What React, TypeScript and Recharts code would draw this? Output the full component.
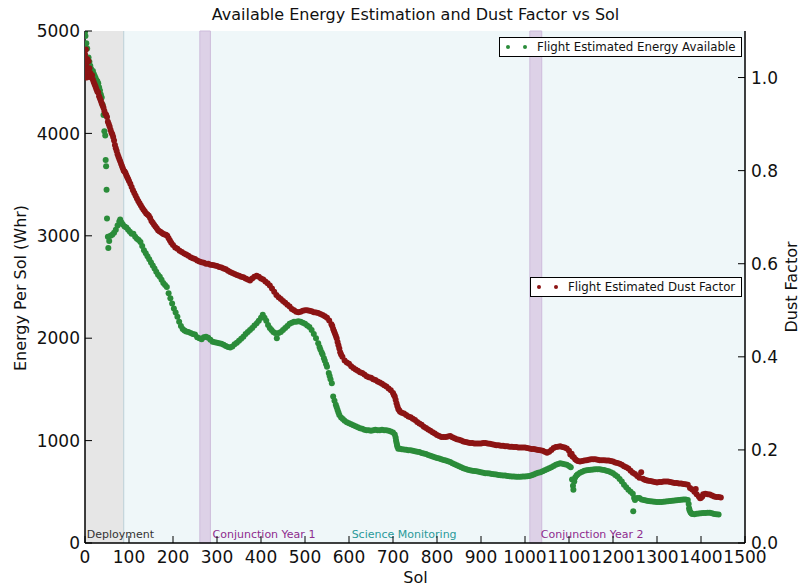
import React from 'react';
import { ScatterChart, Scatter, XAxis, YAxis, ReferenceArea, ReferenceLine } from 'recharts';

const FONT = '"DejaVu Sans", Verdana, sans-serif';
const GREEN = '#2b8c3a';
const RED = '#8c1414';

const SOL_TICKS = [0, 100, 200, 300, 400, 500, 600, 700, 800, 900, 1000, 1100, 1200, 1300, 1400, 1500];
const ENERGY_TICKS = [0, 1000, 2000, 3000, 4000, 5000];
const DUST_TICKS = [0, 0.2, 0.4, 0.6, 0.8, 1.0];

// mission phases (sol ranges)
const DEPLOYMENT: [number, number] = [0, 88];
const CONJUNCTIONS: [number, number][] = [[261, 285], [1011, 1038]];
const PHASE_LABELS: { sol: number; text: string; color: string }[] = [
  { sol: 4, text: 'Deployment', color: '#333333' },
  { sol: 290, text: 'Conjunction Year 1', color: '#8e2c8e' },
  { sol: 606, text: 'Science Monitoring', color: '#2a9a9a' },
  { sol: 1036, text: 'Conjunction Year 2', color: '#8e2c8e' },
];

// [sol, Whr]
const ENERGY: [number, number][] = [
  [0, 4990], [1, 4950], [2, 4570], [3, 4880], [5, 4830], [6, 4720], [8, 4740], [10, 4700], [12, 4660], [14, 4630],
  [16, 4600], [18, 4610], [20, 4580], [22, 4560], [24, 4540], [26, 4520], [28, 4510], [30, 4490], [32, 4450], [34, 4420],
  [36, 4380], [38, 4350], [40, 4280], [42, 4180], [44, 4020], [46, 3980], [47, 3740], [48, 3680], [49, 3450], [50, 3170],
  [52, 2990], [53, 2880], [55, 2950], [58, 3000], [62, 3010], [66, 3030], [70, 3060], [74, 3100], [78, 3140], [80, 3160],
  [83, 3130], [86, 3110], [90, 3090], [94, 3080], [98, 3060], [102, 3040], [106, 3020], [110, 3020], [114, 2990], [118, 2970],
  [122, 2960], [126, 2940], [130, 2900], [134, 2860], [138, 2830], [142, 2800], [146, 2770], [150, 2740], [154, 2710], [158, 2680],
  [162, 2650], [166, 2620], [170, 2600], [174, 2570], [178, 2540], [182, 2520], [186, 2500], [190, 2440], [194, 2390], [198, 2340],
  [202, 2290], [206, 2250], [210, 2210], [214, 2160], [218, 2120], [222, 2090], [226, 2075], [230, 2065], [235, 2060], [240, 2050],
  [245, 2040], [250, 2035], [255, 2010], [260, 2000], [265, 1990], [270, 2010], [275, 2015], [280, 2005], [285, 1985], [290, 1965],
  [295, 1960], [300, 1955], [305, 1950], [310, 1945], [315, 1935], [320, 1925], [325, 1915], [330, 1910], [335, 1920], [340, 1940],
  [345, 1955], [350, 1975], [355, 1995], [360, 2015], [365, 2040], [370, 2060], [375, 2080], [380, 2100], [385, 2125], [390, 2145],
  [395, 2170], [400, 2200], [404, 2230], [408, 2200], [412, 2170], [416, 2130], [420, 2100], [424, 2080], [428, 2060], [432, 2050],
  [436, 2000], [440, 2050], [445, 2060], [450, 2080], [455, 2100], [460, 2120], [465, 2140], [470, 2150], [475, 2160], [480, 2160],
  [485, 2165], [490, 2160], [495, 2150], [500, 2140], [505, 2125], [510, 2110], [515, 2080], [520, 2040], [525, 2000], [530, 1950],
  [533, 1915], [535, 1890], [538, 1860], [540, 1840], [543, 1805], [545, 1780], [548, 1745], [550, 1720], [554, 1660], [556, 1630],
  [558, 1600], [561, 1560], [564, 1430], [567, 1390], [570, 1350], [572, 1325], [574, 1300], [576, 1275], [578, 1250], [582, 1225],
  [586, 1210], [590, 1195], [595, 1180], [600, 1170], [605, 1160], [610, 1150], [615, 1140],
  [620, 1130], [625, 1120], [630, 1115], [635, 1105], [640, 1100], [645, 1100], [650, 1095], [655, 1100], [660, 1105], [665, 1100],
  [670, 1100], [675, 1105], [680, 1100], [685, 1100], [690, 1095], [695, 1090], [700, 1080], [704, 1060], [706, 1030], [707, 1000],
  [708, 980], [709, 960], [710, 940], [712, 920], [716, 920], [720, 915], [725, 912], [730, 910], [735, 905], [740, 905], [745, 900],
  [750, 895], [755, 892],
  [760, 888], [765, 880], [770, 875], [775, 868], [780, 860], [785, 852], [790, 845], [795, 838], [800, 830], [805, 825],
  [810, 818], [815, 810], [820, 805], [825, 798], [830, 790], [835, 780], [840, 770], [845, 760], [850, 750], [855, 740],
  [860, 730], [865, 722], [870, 715], [875, 710], [880, 705], [885, 702], [890, 700], [895, 695], [900, 690], [905, 685],
  [910, 680], [915, 680], [920, 678], [925, 675], [930, 672], [935, 668], [940, 665], [945, 662], [950, 660], [955, 658],
  [960, 655], [965, 652], [970, 650], [975, 650], [980, 648], [985, 648], [990, 648], [995, 650], [1000, 650], [1005, 652],
  [1010, 655], [1015, 662], [1020, 670], [1025, 678], [1030, 685], [1035, 692], [1040, 700], [1045, 710], [1050, 720], [1055, 730],
  [1060, 740], [1065, 752], [1070, 765], [1075, 772], [1080, 778], [1085, 775], [1090, 770], [1095, 765], [1100, 752], [1104, 740],
  [1107, 620], [1109, 560], [1110, 520], [1112, 600], [1114, 640], [1117, 660], [1120, 672], [1125, 685], [1130, 695], [1135, 705],
  [1140, 710], [1145, 712], [1150, 715], [1155, 718], [1160, 720], [1165, 720], [1170, 720], [1175, 715], [1180, 712], [1185, 705],
  [1190, 700], [1195, 690], [1200, 680], [1205, 665], [1210, 650], [1215, 625], [1220, 600], [1225, 570], [1230, 545], [1235, 520],
  [1240, 500], [1245, 480], [1246, 310], [1248, 440], [1250, 420], [1255, 440], [1260, 440], [1265, 425], [1270, 420], [1275, 415],
  [1280, 410], [1285, 408], [1290, 405], [1295, 402], [1300, 400], [1305, 400], [1310, 400], [1315, 402], [1320, 405], [1325, 408],
  [1330, 410], [1335, 412], [1340, 415], [1345, 418], [1350, 420], [1355, 422], [1360, 425], [1365, 424], [1370, 420], [1372, 380],
  [1373, 340], [1374, 320], [1376, 300], [1378, 290], [1380, 282], [1385, 280], [1390, 285], [1395, 288], [1400, 290], [1405, 292],
  [1410, 292], [1415, 295], [1420, 295], [1425, 290], [1430, 282], [1435, 280], [1440, 278],
];

// [sol, dust factor]
const DUST: [number, number][] = [
  [0, 1.05], [1, 1.01], [2, 1.06], [3, 1.03], [4, 1.0], [5, 1.04], [6, 1.02], [8, 1.035], [10, 1.02], [12, 1.01],
  [14, 1.0], [16, 1.005], [18, 0.995], [20, 0.99], [22, 0.985], [24, 0.98], [26, 0.975], [28, 0.97], [30, 0.968], [32, 0.96],
  [34, 0.955], [36, 0.95], [38, 0.945], [40, 0.94], [42, 0.935], [44, 0.928], [46, 0.922], [48, 0.92], [50, 0.915], [52, 0.905],
  [54, 0.9], [56, 0.895], [58, 0.888], [60, 0.882], [62, 0.878], [64, 0.872], [66, 0.865], [68, 0.855], [70, 0.848], [72, 0.842],
  [74, 0.835], [76, 0.83], [78, 0.825], [80, 0.82], [82, 0.815], [84, 0.81], [86, 0.805], [88, 0.8], [90, 0.798], [92, 0.795],
  [94, 0.79], [96, 0.786], [98, 0.782], [100, 0.778], [103, 0.772], [106, 0.765], [109, 0.758], [112, 0.752], [115, 0.746], [118, 0.74],
  [121, 0.735], [124, 0.73], [127, 0.725], [130, 0.72], [133, 0.716], [136, 0.712], [139, 0.708], [142, 0.706], [145, 0.703], [148, 0.698],
  [151, 0.692], [154, 0.688], [157, 0.684], [160, 0.68], [163, 0.676], [166, 0.672], [169, 0.67], [172, 0.668], [175, 0.666], [178, 0.664],
  [181, 0.663], [184, 0.662], [187, 0.66], [190, 0.655], [193, 0.65], [196, 0.645], [200, 0.64], [205, 0.635], [210, 0.632], [215, 0.628],
  [220, 0.625], [225, 0.622], [230, 0.62], [235, 0.617], [240, 0.614], [245, 0.612], [250, 0.61], [255, 0.607], [260, 0.605], [265, 0.603],
  [270, 0.602], [275, 0.6], [280, 0.6], [285, 0.598], [290, 0.597], [295, 0.596], [300, 0.595], [305, 0.593], [310, 0.592], [315, 0.59],
  [320, 0.588], [325, 0.585], [330, 0.582], [335, 0.58], [340, 0.578], [345, 0.576], [350, 0.574], [355, 0.572], [360, 0.571], [365, 0.568],
  [370, 0.566], [375, 0.564], [380, 0.568], [385, 0.572], [390, 0.574], [395, 0.572], [400, 0.568], [405, 0.566], [410, 0.562], [415, 0.558],
  [420, 0.553], [425, 0.547], [430, 0.54], [435, 0.533], [440, 0.528], [445, 0.524], [450, 0.52], [455, 0.516], [460, 0.512], [465, 0.508],
  [470, 0.503], [475, 0.5], [480, 0.497], [485, 0.496], [490, 0.497], [495, 0.499], [500, 0.5], [505, 0.5], [510, 0.499], [515, 0.498],
  [520, 0.496], [525, 0.495], [530, 0.494], [535, 0.492], [540, 0.49], [545, 0.487], [550, 0.484], [555, 0.478], [560, 0.47], [562, 0.466],
  [564, 0.46], [566, 0.455], [568, 0.45], [570, 0.445], [572, 0.44], [574, 0.432], [576, 0.425], [578, 0.418], [580, 0.41], [582, 0.405],
  [585, 0.4], [590, 0.392], [595, 0.388], [600, 0.385], [605, 0.38], [610, 0.376],
  [615, 0.373], [620, 0.37], [625, 0.367], [630, 0.365], [635, 0.362], [640, 0.358], [645, 0.356], [650, 0.355], [655, 0.352], [660, 0.35],
  [665, 0.347], [670, 0.345], [675, 0.342], [680, 0.339], [685, 0.336], [690, 0.332], [695, 0.328], [700, 0.322], [702, 0.318], [704, 0.315],
  [706, 0.308], [708, 0.3], [710, 0.294], [712, 0.288], [714, 0.285], [716, 0.282], [720, 0.28], [725, 0.278], [730, 0.275], [735, 0.272],
  [740, 0.27], [745, 0.267], [750, 0.264], [755, 0.26],
  [760, 0.257], [765, 0.254], [770, 0.25], [775, 0.247], [780, 0.244], [785, 0.241], [790, 0.238], [795, 0.235], [800, 0.232], [805, 0.23],
  [810, 0.228], [815, 0.228], [820, 0.228], [825, 0.229], [830, 0.23], [835, 0.227], [840, 0.225], [845, 0.223], [850, 0.222], [855, 0.22],
  [860, 0.218], [865, 0.217], [870, 0.216], [875, 0.215], [880, 0.215], [885, 0.214], [890, 0.214], [895, 0.214], [900, 0.214], [905, 0.215],
  [910, 0.215], [915, 0.214], [920, 0.213], [925, 0.212], [930, 0.211], [935, 0.21], [940, 0.21], [945, 0.209], [950, 0.209], [955, 0.208],
  [960, 0.208], [965, 0.207], [970, 0.207], [975, 0.206], [980, 0.206], [985, 0.205], [990, 0.205], [995, 0.205], [1000, 0.205], [1005, 0.204],
  [1010, 0.203], [1015, 0.202], [1020, 0.202], [1025, 0.201], [1030, 0.2], [1035, 0.199], [1040, 0.198], [1045, 0.196], [1050, 0.194], [1055, 0.196],
  [1060, 0.2], [1065, 0.204], [1070, 0.206], [1075, 0.207], [1080, 0.208], [1085, 0.206], [1090, 0.205], [1095, 0.203], [1100, 0.198], [1103, 0.19],
  [1106, 0.192], [1108, 0.186], [1111, 0.184], [1114, 0.18], [1117, 0.178], [1120, 0.176], [1125, 0.175], [1130, 0.176], [1135, 0.177], [1140, 0.178],
  [1145, 0.179], [1150, 0.18], [1155, 0.18], [1160, 0.18], [1165, 0.179], [1170, 0.178], [1175, 0.178], [1180, 0.178], [1185, 0.177], [1190, 0.177],
  [1195, 0.176], [1200, 0.175], [1205, 0.173], [1210, 0.172], [1215, 0.17], [1220, 0.168], [1225, 0.165], [1230, 0.163], [1235, 0.16], [1240, 0.155],
  [1245, 0.151], [1250, 0.148], [1255, 0.144], [1260, 0.14], [1264, 0.152], [1268, 0.138], [1272, 0.136], [1276, 0.135], [1280, 0.134], [1285, 0.133],
  [1290, 0.132], [1295, 0.131], [1300, 0.13], [1305, 0.131], [1310, 0.131], [1315, 0.132], [1320, 0.132], [1325, 0.132], [1330, 0.131], [1335, 0.13],
  [1340, 0.129], [1345, 0.129], [1350, 0.128], [1355, 0.128], [1360, 0.127], [1365, 0.126], [1370, 0.125], [1375, 0.118], [1380, 0.115], [1385, 0.11],
  [1388, 0.116], [1390, 0.105], [1395, 0.1], [1398, 0.096], [1400, 0.097], [1403, 0.1], [1405, 0.105], [1410, 0.106], [1415, 0.105], [1420, 0.104],
  [1425, 0.102], [1430, 0.1], [1435, 0.099], [1440, 0.099], [1445, 0.098],
];

const energyData = ENERGY.map(([sol, v]) => ({ sol, v }));
const dustData = DUST.map(([sol, v]) => ({ sol, v }));

const TICK_LEN = 7;
const TICK_FONT = 17;

const BottomTick = ({ x, y, payload }: any) => (
  <g>
    <line x1={x} x2={x} y1={y - 8} y2={y - 8 - TICK_LEN} stroke="#000" strokeWidth={1} />
    <text x={x} y={y} dy="0.71em" textAnchor="middle" fontSize={TICK_FONT} fontFamily={FONT} fill="#111">
      {payload.value}
    </text>
  </g>
);

const TopTick = ({ x, y }: any) => (
  <line x1={x} x2={x} y1={y} y2={y + TICK_LEN} stroke="#000" strokeWidth={1} />
);

const LeftTick = ({ x, y, payload }: any) => (
  <g>
    <line x1={x + 5} x2={x + 5 + TICK_LEN} y1={y} y2={y} stroke="#000" strokeWidth={1} />
    <text x={x} y={y} dy="0.36em" textAnchor="end" fontSize={TICK_FONT} fontFamily={FONT} fill="#111">
      {payload.value}
    </text>
  </g>
);

const RightTick = ({ x, y, payload }: any) => (
  <g>
    <line x1={x - 6} x2={x - 6 - TICK_LEN} y1={y} y2={y} stroke="#000" strokeWidth={1} />
    <text x={x} y={y} dy="0.36em" textAnchor="start" fontSize={TICK_FONT} fontFamily={FONT} fill="#111">
      {Number(payload.value).toFixed(1)}
    </text>
  </g>
);

const PhaseLabel = ({ viewBox, text, color }: any) => {
  if (!viewBox) return null;
  return (
    <text x={viewBox.x} y={viewBox.y + viewBox.height - 5} fontSize={11} fontFamily={FONT} fill={color}>
      {text}
    </text>
  );
};

const dot = (color: string) => (p: any) => <circle cx={p.cx} cy={p.cy} r={3} fill={color} />;

const LegendBox = ({ left, top, width, color, label, textLeft }: any) => (
  <div
    style={{
      position: 'absolute', left, top, width, height: 20, border: '1.5px solid #000', background: '#fff',
      boxSizing: 'border-box', fontFamily: FONT, fontSize: 11.8, color: '#111',
    }}
  >
    <svg width={40} height={18} style={{ position: 'absolute', left: 0, top: 0 }}>
      <circle cx={8} cy={9} r={2} fill={color} />
      <circle cx={25} cy={9} r={2} fill={color} />
    </svg>
    <span style={{ position: 'absolute', left: textLeft, top: 1, whiteSpace: 'nowrap', lineHeight: '16px' }}>{label}</span>
  </div>
);

export default function App() {
  return (
    <div style={{ position: 'absolute', left: 0, top: 0, width: 801, height: 588, background: '#fff', fontFamily: FONT }}>
      <ScatterChart width={801} height={588} margin={{ top: 31, right: 10, bottom: 15, left: 25 }}>
        <XAxis
          dataKey="sol" type="number" domain={[0, 1500]} ticks={SOL_TICKS} interval={0}
          height={30} tickSize={0} tickMargin={8} tick={<BottomTick />}
          axisLine={{ stroke: '#000', strokeWidth: 1.5 }} allowDataOverflow
        />
        <XAxis
          xAxisId="top" orientation="top" type="number" domain={[0, 1500]} ticks={SOL_TICKS} interval={0}
          height={0} tickSize={0} tickMargin={0} tick={<TopTick />}
          axisLine={{ stroke: '#000', strokeWidth: 1.5 }} allowDataOverflow
        />
        <YAxis
          yAxisId="left" dataKey="v" type="number" domain={[0, 5000]} ticks={ENERGY_TICKS} interval={0}
          width={60} tickSize={0} tickMargin={5} tick={<LeftTick />}
          axisLine={{ stroke: '#000', strokeWidth: 1.5 }} allowDataOverflow
        />
        <YAxis
          yAxisId="right" orientation="right" dataKey="v" type="number" domain={[0, 1.1]} ticks={DUST_TICKS} interval={0}
          width={46} tickSize={0} tickMargin={6} tick={<RightTick />}
          axisLine={{ stroke: '#000', strokeWidth: 1.5 }} allowDataOverflow
        />

        <ReferenceArea yAxisId="left" x1={DEPLOYMENT[1]} x2={1500} fill="#eff7f9" fillOpacity={1} stroke="none" />
        <ReferenceArea yAxisId="left" x1={DEPLOYMENT[0]} x2={DEPLOYMENT[1]} fill="#e6e6e6" fillOpacity={1} stroke="none" />
        <ReferenceLine yAxisId="left" x={DEPLOYMENT[1]} stroke="#bcd0d8" strokeWidth={1} />
        {CONJUNCTIONS.map(([a, b]) => (
          <ReferenceArea key={a} yAxisId="left" x1={a} x2={b} fill="#ddd1e7" fillOpacity={1} stroke="#cdbcdb" strokeWidth={1} />
        ))}
        {PHASE_LABELS.map((p) => (
          <ReferenceLine
            key={p.text} yAxisId="left" x={p.sol} stroke="none"
            label={<PhaseLabel text={p.text} color={p.color} />}
          />
        ))}

        <Scatter yAxisId="left" data={energyData} fill={GREEN} shape={dot(GREEN)} isAnimationActive={false} />
        <Scatter yAxisId="right" data={dustData} fill={RED} shape={dot(RED)} isAnimationActive={false} />
      </ScatterChart>

      <div style={{ position: 'absolute', left: 0, width: 831, top: 5, textAlign: 'center', fontSize: 16, color: '#111', whiteSpace: 'nowrap' }}>
        Available Energy Estimation and Dust Factor vs Sol
      </div>
      <div style={{ position: 'absolute', left: 0, width: 831, top: 568, textAlign: 'center', fontSize: 16, color: '#111' }}>Sol</div>
      <div
        style={{
          position: 'absolute', left: 20, top: 288, transform: 'translate(-50%, -50%) rotate(-90deg)',
          fontSize: 16, color: '#111', whiteSpace: 'nowrap',
        }}
      >
        Energy Per Sol (Whr)
      </div>
      <div
        style={{
          position: 'absolute', left: 791, top: 287, transform: 'translate(-50%, -50%) rotate(-90deg)',
          fontSize: 16, color: '#111', whiteSpace: 'nowrap',
        }}
      >
        Dust Factor
      </div>

      <LegendBox left={499} top={37} width={243} color={GREEN} label="Flight Estimated Energy Available" textLeft={37} />
      <LegendBox left={530} top={277} width={212} color={RED} label="Flight Estimated Dust Factor" textLeft={37} />
    </div>
  );
}
